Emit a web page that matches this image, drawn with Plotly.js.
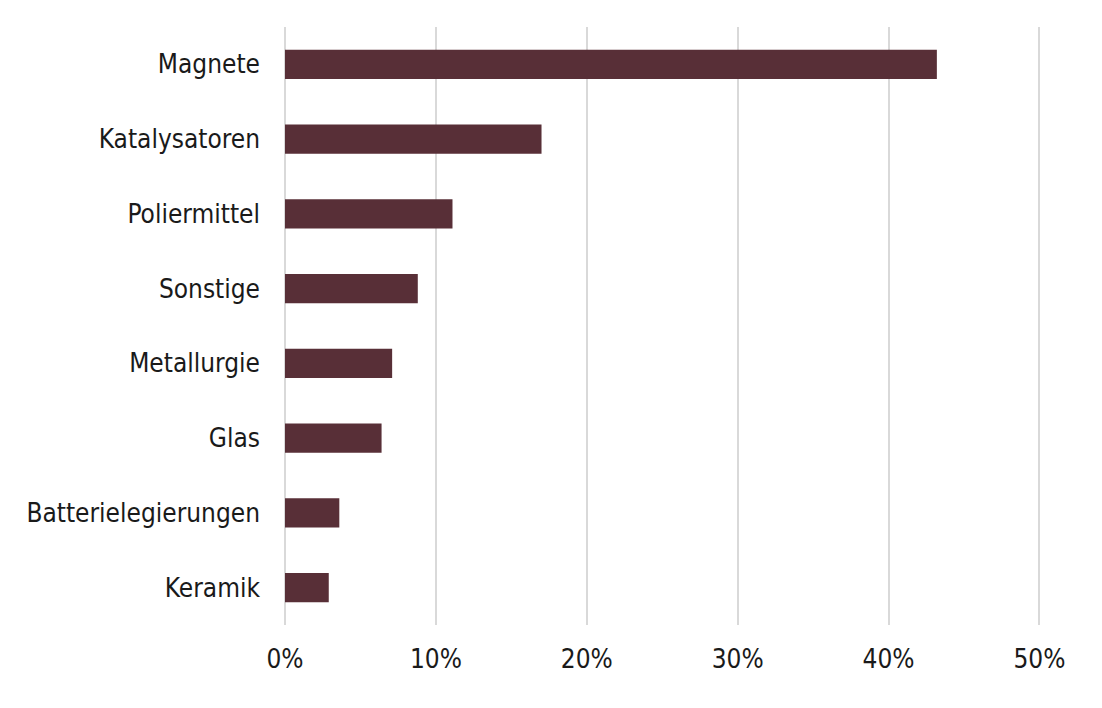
<!DOCTYPE html>
<html>
<head>
<meta charset="utf-8">
<script src="https://cdn.plot.ly/plotly-3.0.1.min.js"></script>
<style>html,body{margin:0;padding:0;background:#fff;}#chart{width:1102px;height:708px;}</style>
</head>
<body>
<div id="chart"></div>
<script>
const categories = ["Magnete","Katalysatoren","Poliermittel","Sonstige","Metallurgie","Glas","Batterielegierungen","Keramik"];
const shares = [43.2, 17.0, 11.1, 8.8, 7.1, 6.4, 3.6, 2.9];
const tickValues = [0, 10, 20, 30, 40, 50];
const tickLabels = ["0%","10%","20%","30%","40%","50%"];

const font = "'DejaVu Sans Condensed', 'Roboto', sans-serif";

Plotly.newPlot('chart', [{
  type: 'bar',
  orientation: 'h',
  x: shares,
  y: categories,
  marker: {color: '#582F37', line: {width: 0}},
  hoverinfo: 'x+y'
}], {
  width: 1102, height: 708,
  margin: {l: 285, r: 58, t: 27, b: 83},
  paper_bgcolor: '#fff', plot_bgcolor: '#fff',
  bargap: 0.61,
  showlegend: false,
  font: {family: font, size: 26, color: '#1a1a1a'},
  xaxis: {
    range: [0, 50.3],
    tickvals: tickValues, ticktext: tickLabels,
    showgrid: true, gridcolor: '#d9d9d9', gridwidth: 2,
    zeroline: true, zerolinecolor: '#d9d9d9', zerolinewidth: 2,
    showline: false, ticks: '', ticklabelstandoff: 16,
    fixedrange: true
  },
  yaxis: {
    autorange: 'reversed',
    categoryorder: 'array', categoryarray: categories,
    showgrid: false, zeroline: false, showline: false,
    ticks: '', ticklabelstandoff: 24,
    fixedrange: true
  }
}, {displayModeBar: false, staticPlot: true});
</script>
</body>
</html>
